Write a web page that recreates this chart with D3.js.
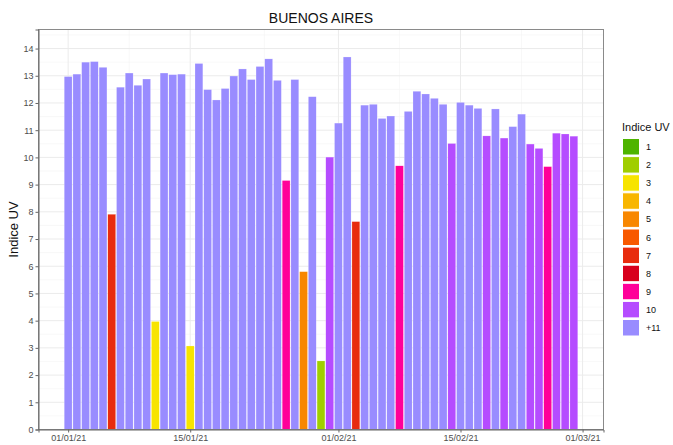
<!DOCTYPE html>
<html>
<head>
<meta charset="utf-8">
<script src="https://cdn.jsdelivr.net/npm/d3@7"></script>
<style>
  body { margin: 0; background: #fff; font-family: "Liberation Sans", Arial, sans-serif; }
</style>
</head>
<body>
<svg id="chart" width="673" height="445"></svg>
<script>
// daily UV index, Buenos Aires, 01/01/21 .. 28/02/21
const startDate = '2021-01-01'
const uvValues = [
    12.97, 13.06, 13.50, 13.52, 13.31, 7.91, 12.58, 13.10, 12.65, 12.88,
    3.97, 13.10, 13.04, 13.06, 3.07, 13.45, 12.49, 12.11, 12.53, 12.99,
    13.25, 12.86, 13.34, 13.62, 12.83, 9.15, 12.86, 5.80, 12.23, 2.52,
    10.01, 11.26, 13.69, 7.64, 11.92, 11.95, 11.43, 11.52, 9.69, 11.69,
    12.43, 12.33, 12.17, 11.95, 10.51, 12.02, 11.92, 11.80, 10.79, 11.78,
    10.71, 11.13, 11.59, 10.49, 10.33, 9.66, 10.89, 10.86, 10.78
]
const uvLevels = ['1', '2', '3', '4', '5', '6', '7', '8', '9', '10', '+11']
const uvColours = ['#4eb400', '#a0ce00', '#f7e400', '#f8b600', '#f88700', '#f85900',
    '#e82c0e', '#d8001d', '#ff0099', '#b54cff', '#998cff']
const xTickDates = ['2021-01-01', '2021-01-15', '2021-02-01', '2021-02-15', '2021-03-01']
const yTickValues = d3.range(0, 15)

const parse = d3.utcParse('%Y-%m-%d')
const day = 864e5
const data = uvValues.map((v, i) => ({
    date: new Date(parse(startDate).getTime() + i * day),
    value: v,
    level: uvLevels[Math.min(Math.floor(v), 11) - 1]
}))

const svg = d3.select('#chart')
const panel = { left: 38.5, right: 603.5, top: 29.5, bottom: 429.5 }
const expandDays = 3.4

const x = d3.scaleUtc()
    .domain([
        new Date(data[0].date.getTime() - expandDays * day),
        new Date(data[data.length - 1].date.getTime() + expandDays * day)
    ])
    .range([panel.left, panel.right])
const y = d3.scaleLinear().domain([0, 14.7]).range([panel.bottom, panel.top])
const colour = d3.scaleOrdinal().domain(uvLevels).range(uvColours)

const xTicks = xTickDates.map(parse)
const xMinor = d3.pairs(xTicks).map(([a, b]) => new Date((a.getTime() + b.getTime()) / 2))
const fmt = d3.utcFormat('%d/%m/%y')

// grid
const grid = svg.append('g')
grid.selectAll('.yminor').data(yTickValues.map(d => d + 0.5).filter(d => d < 14.7))
    .join('line')
    .attr('x1', panel.left).attr('x2', panel.right)
    .attr('y1', d => y(d)).attr('y2', d => y(d))
    .attr('stroke', '#f4f4f4').attr('stroke-width', 0.6)
grid.selectAll('.xminor').data(xMinor)
    .join('line')
    .attr('x1', d => x(d)).attr('x2', d => x(d))
    .attr('y1', panel.top).attr('y2', panel.bottom)
    .attr('stroke', '#f4f4f4').attr('stroke-width', 0.6)
grid.selectAll('.ymajor').data(yTickValues)
    .join('line')
    .attr('x1', panel.left).attr('x2', panel.right)
    .attr('y1', d => y(d)).attr('y2', d => y(d))
    .attr('stroke', '#ebebeb').attr('stroke-width', 1)
grid.selectAll('.xmajor').data(xTicks)
    .join('line')
    .attr('x1', d => x(d)).attr('x2', d => x(d))
    .attr('y1', panel.top).attr('y2', panel.bottom)
    .attr('stroke', '#ebebeb').attr('stroke-width', 1)

// bars
const barW = (x(new Date(day)) - x(new Date(0))) * 0.9
svg.append('g')
    .selectAll('rect')
    .data(data)
    .join('rect')
    .attr('x', d => x(d.date) - barW / 2)
    .attr('width', barW)
    .attr('y', d => y(d.value))
    .attr('height', d => y(0) - y(d.value))
    .attr('fill', d => colour(d.level))
    .attr('stroke', '#ffffff')
    .attr('stroke-opacity', 0.5)
    .attr('stroke-width', 0.4)

// border
svg.append('rect')
    .attr('x', panel.left).attr('y', panel.top)
    .attr('width', panel.right - panel.left).attr('height', panel.bottom - panel.top)
    .attr('fill', 'none').attr('stroke', '#8a8a8a').attr('stroke-width', 1)

// axes
svg.append('g')
    .attr('transform', `translate(0, ${panel.bottom})`)
    .style('font-size', '9px')
    .call(d3.axisBottom(x).tickValues(xTicks).tickFormat(fmt).tickSize(3).tickPadding(2))
    .call(g => g.select('.domain').attr('stroke', '#666'))
    .call(g => g.selectAll('.tick line').attr('stroke', '#666'))
    .call(g => g.selectAll('text').attr('fill', '#4d4d4d').attr('font-family', '"Liberation Sans", Arial, sans-serif'))

svg.append('g')
    .attr('transform', `translate(${panel.left}, 0)`)
    .style('font-size', '9px')
    .call(d3.axisLeft(y).tickValues(yTickValues).tickSize(3).tickPadding(2))
    .call(g => g.select('.domain').attr('stroke', '#666'))
    .call(g => g.selectAll('.tick line').attr('stroke', '#666'))
    .call(g => g.selectAll('text').attr('fill', '#4d4d4d').attr('font-family', '"Liberation Sans", Arial, sans-serif'))

// titles
svg.append('text')
    .attr('x', (panel.left + panel.right) / 2)
    .attr('y', 23)
    .attr('text-anchor', 'middle')
    .style('font-size', '14px')
    .attr('fill', '#111')
    .text('BUENOS AIRES')

svg.append('text')
    .attr('transform', `translate(18, ${(panel.top + panel.bottom) / 2}) rotate(-90)`)
    .attr('text-anchor', 'middle')
    .style('font-size', '13px')
    .attr('fill', '#111')
    .text('Indice UV')

// legend
const legend = svg.append('g').attr('transform', 'translate(622, 138)')
legend.append('text')
    .attr('x', 0).attr('y', -7)
    .style('font-size', '11px')
    .attr('fill', '#111')
    .text('Indice UV')
const keyStep = 18.1
const keys = legend.selectAll('.key').data(uvLevels).join('g')
    .attr('transform', (d, i) => `translate(0, ${i * keyStep})`)
keys.append('rect')
    .attr('x', 0.5).attr('y', 0.5)
    .attr('width', 17).attr('height', 16.5)
    .attr('fill', d => colour(d))
    .attr('stroke', '#fff').attr('stroke-width', 1)
keys.append('text')
    .attr('x', 24).attr('y', 12)
    .style('font-size', '9px')
    .attr('fill', '#111')
    .text(d => d)
</script>
</body>
</html>
